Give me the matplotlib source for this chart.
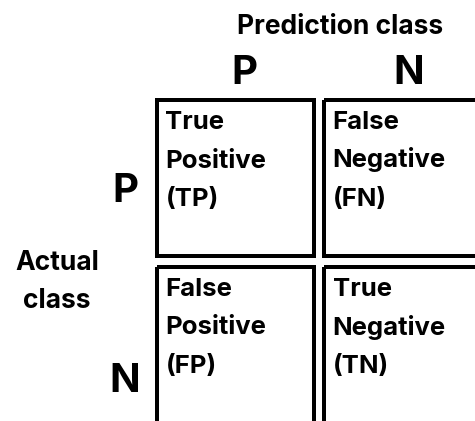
import matplotlib.pyplot as plt
from matplotlib.patches import Rectangle

plt.rcParams['font.family'] = ['Inter', 'DejaVu Sans']

# confusion matrix labels
col_classes = ["P", "N"]
row_classes = ["P", "N"]
cell_text = [["True\nPositive\n(TP)", "False\nNegative\n(FN)"],
             ["False\nPositive\n(FP)", "True\nNegative\n(TN)"]]
col_title = "Prediction class"
row_title = "Actual\nclass"

W, H = 475, 421
fig = plt.figure(figsize=(W / 100, H / 100), dpi=100)
ax = fig.add_axes([0, 0, 1, 1])
ax.set_xlim(0, W)
ax.set_ylim(H, 0)
ax.axis("off")

# box layout in pixels
box_x = [157, 324]
box_y = [100, 267]
box_w = 157
box_h = 156
lw = 4 * 72 / 100

for i in range(2):
    for j in range(2):
        ax.add_patch(Rectangle((box_x[j], box_y[i]), box_w, box_h + (60 if i else 0),
                               fill=False, edgecolor="black", linewidth=lw,
                               joinstyle="miter", clip_on=False))
        lines = cell_text[i][j].split("\n")
        for k, line in enumerate(lines):
            ax.text(box_x[j] + 8.5, box_y[i] + 29 + k * 38.5, line,
                    fontsize=18.5, fontweight="bold", va="baseline", ha="left")

# prediction header
ax.text(340, 34.3, col_title, fontsize=19, fontweight="bold",
        va="baseline", ha="center")
col_cx = [244, 409]
for cx, lab in zip(col_cx, col_classes):
    ax.text(cx, 84.3, lab, fontsize=29, fontweight="bold",
            va="baseline", ha="center")

# actual class rows
row_base = [201.7, 391.7]
for by, lab in zip(row_base, row_classes):
    ax.text(125, by, lab, fontsize=29, fontweight="bold",
            va="baseline", ha="center")
rt = row_title.split("\n")
ax.text(57, 270, rt[0], fontsize=19, fontweight="bold", va="baseline", ha="center")
ax.text(57, 308, rt[1], fontsize=19, fontweight="bold", va="baseline", ha="center")

fig.savefig("out.png", dpi=100)
